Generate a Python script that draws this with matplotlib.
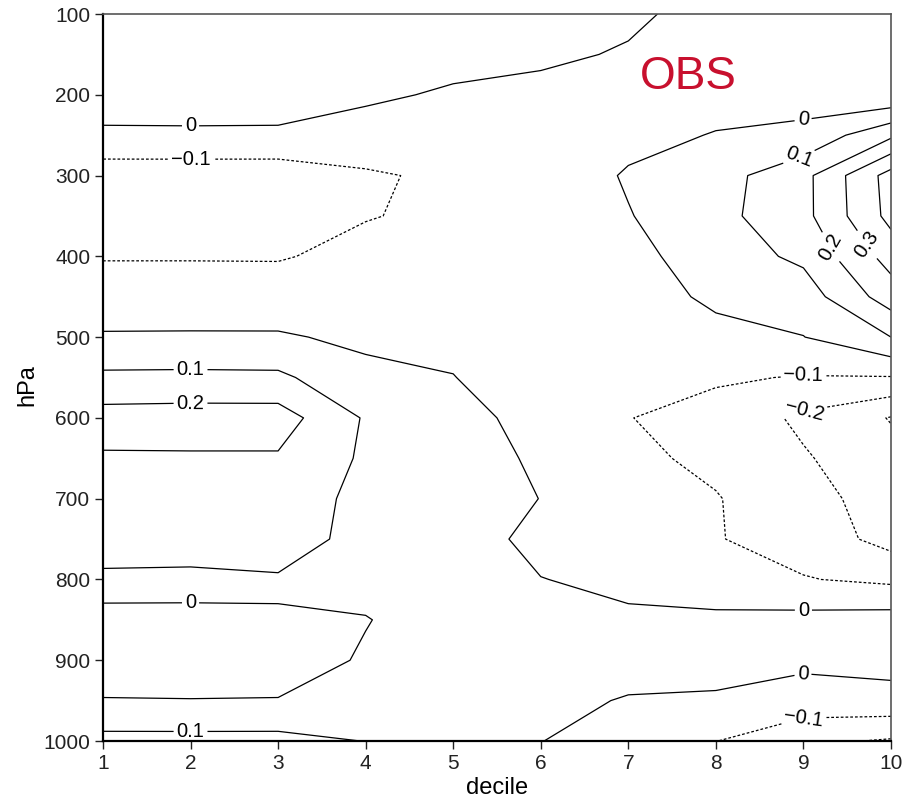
import numpy as np
import matplotlib
matplotlib.use("Agg")
import matplotlib.pyplot as plt

# decile bins along x, pressure levels (hPa) along y
deciles = [1, 2, 3, 4, 5, 6, 7, 8, 9, 10]
levels_hpa = [100, 150, 200, 250, 300, 350, 400, 450, 500, 550,
              600, 650, 700, 750, 800, 850, 900, 950, 1000]

# one profile per decile, top (100 hPa) to bottom (1000 hPa)
d1 = [0.05, 0.05, 0.04, -0.013, -0.16, -0.17, -0.105, -0.06, 0.01, 0.12,
      0.24, 0.19, 0.16, 0.14, 0.085, -0.06, -0.06, 0.005, 0.13]
d2 = [0.05, 0.05, 0.04, -0.012, -0.16, -0.17, -0.105, -0.06, 0.011, 0.122,
      0.245, 0.19, 0.16, 0.14, 0.082, -0.06, -0.06, 0.003, 0.13]
d3 = [0.06, 0.05, 0.04, -0.013, -0.16, -0.17, -0.108, -0.045, 0.008, 0.12,
      0.245, 0.19, 0.16, 0.15, 0.09, -0.06, -0.06, 0.005, 0.13]
d4 = [0.06, 0.05, 0.02, -0.05, -0.11, -0.105, -0.07, -0.04, -0.015, 0.02,
      0.09, 0.085, 0.07, 0.065, 0.04, -0.005, 0.013, 0.06, 0.098]
d5 = [0.07, 0.04, -0.015, -0.06, -0.085, -0.08, -0.06, -0.04, -0.02, 0.002,
      0.04, 0.06, 0.07, 0.07, 0.07, 0.06, 0.06, 0.06, 0.06]
d6 = [0.05, 0.02, -0.03, -0.05, -0.07, -0.07, -0.07, -0.06, -0.06, -0.05,
      -0.04, -0.02, -0.002, -0.04, 0.003, 0.04, 0.04, 0.02, 0.002]
d7 = [0.02, -0.01, -0.04, -0.03, 0.01, -0.005, -0.03, -0.05, -0.07, -0.085,
      -0.098, -0.08, -0.06, -0.05, -0.03, 0.02, 0.03, -0.005, -0.05]
d8 = [-0.04, -0.05, -0.04, 0.005, 0.06, 0.07, 0.05, 0.02, -0.03, -0.09,
      -0.13, -0.12, -0.095, -0.095, -0.06, 0.02, 0.03, -0.01, -0.098]
d9 = [-0.05, -0.06, -0.04, 0.025, 0.17, 0.17, 0.12, 0.05, -0.002, -0.105,
      -0.22, -0.19, -0.16, -0.14, -0.095, 0.03, 0.02, -0.04, -0.18]
d10 = [-0.05, -0.06, -0.085, 0.18, 0.44, 0.43, 0.34, 0.25, 0.1, -0.105,
       -0.305, -0.27, -0.25, -0.235, -0.12, 0.04, 0.03, -0.03, -0.21]

contour_levels = [-0.3, -0.2, -0.1, 0.0, 0.1, 0.2, 0.3, 0.4]

# where the contour labels sit (decile, hPa)
label_spots = [(2, 239), (2, 279), (2, 541), (2, 584), (2, 827), (2, 988),
               (9, 234), (8.95, 277), (9.2, 395), (9.6, 395),
               (9, 546), (9, 586), (9, 838), (9, 920), (9, 970)]

plt.rcParams['font.family'] = ['Liberation Sans', 'DejaVu Sans']

field = np.array([d1, d2, d3, d4, d5, d6, d7, d8, d9, d10]).T
X, P = np.meshgrid(deciles, levels_hpa)

fig = plt.figure(figsize=(9.05, 8.05), dpi=100)
ax = fig.add_axes([0.1138, 0.0795, 0.8707, 0.9031])

styles = ['solid' if lv >= 0 else (0, (2.2, 1.6)) for lv in contour_levels]
cs = ax.contour(X, P, field, levels=contour_levels, colors='black',
                linewidths=0.9, linestyles=styles)


def fmt(v):
    s = '{:g}'.format(round(v, 2))
    if s == '-0':
        s = '0'
    return s.replace('-', '\u2212')


ax.clabel(cs, fmt=fmt, fontsize=14.5, inline=True, inline_spacing=3,
          manual=label_spots)

ax.set_xlim(1, 10)
ax.set_ylim(1000, 100)
ax.set_xticks(deciles)
ax.set_yticks(range(100, 1001, 100))
ax.tick_params(direction='out', length=6, width=1, labelsize=15,
               colors='#222222', pad=3)
for side in ['left', 'bottom']:
    ax.spines[side].set_linewidth(1.6)
for side in ['top', 'right']:
    ax.spines[side].set_linewidth(1.2)
    ax.spines[side].set_color('#555555')

ax.set_xlabel('decile', fontsize=17)
ax.set_ylabel('hPa', fontsize=17)
ax.xaxis.set_label_coords(0.5, -0.05)
ax.yaxis.set_label_coords(-0.082, 0.49)

ax.text(7.68, 178, 'OBS', color='#c8102e', fontsize=33,
        ha='center', va='center')

fig.savefig('out.png', dpi=100)
